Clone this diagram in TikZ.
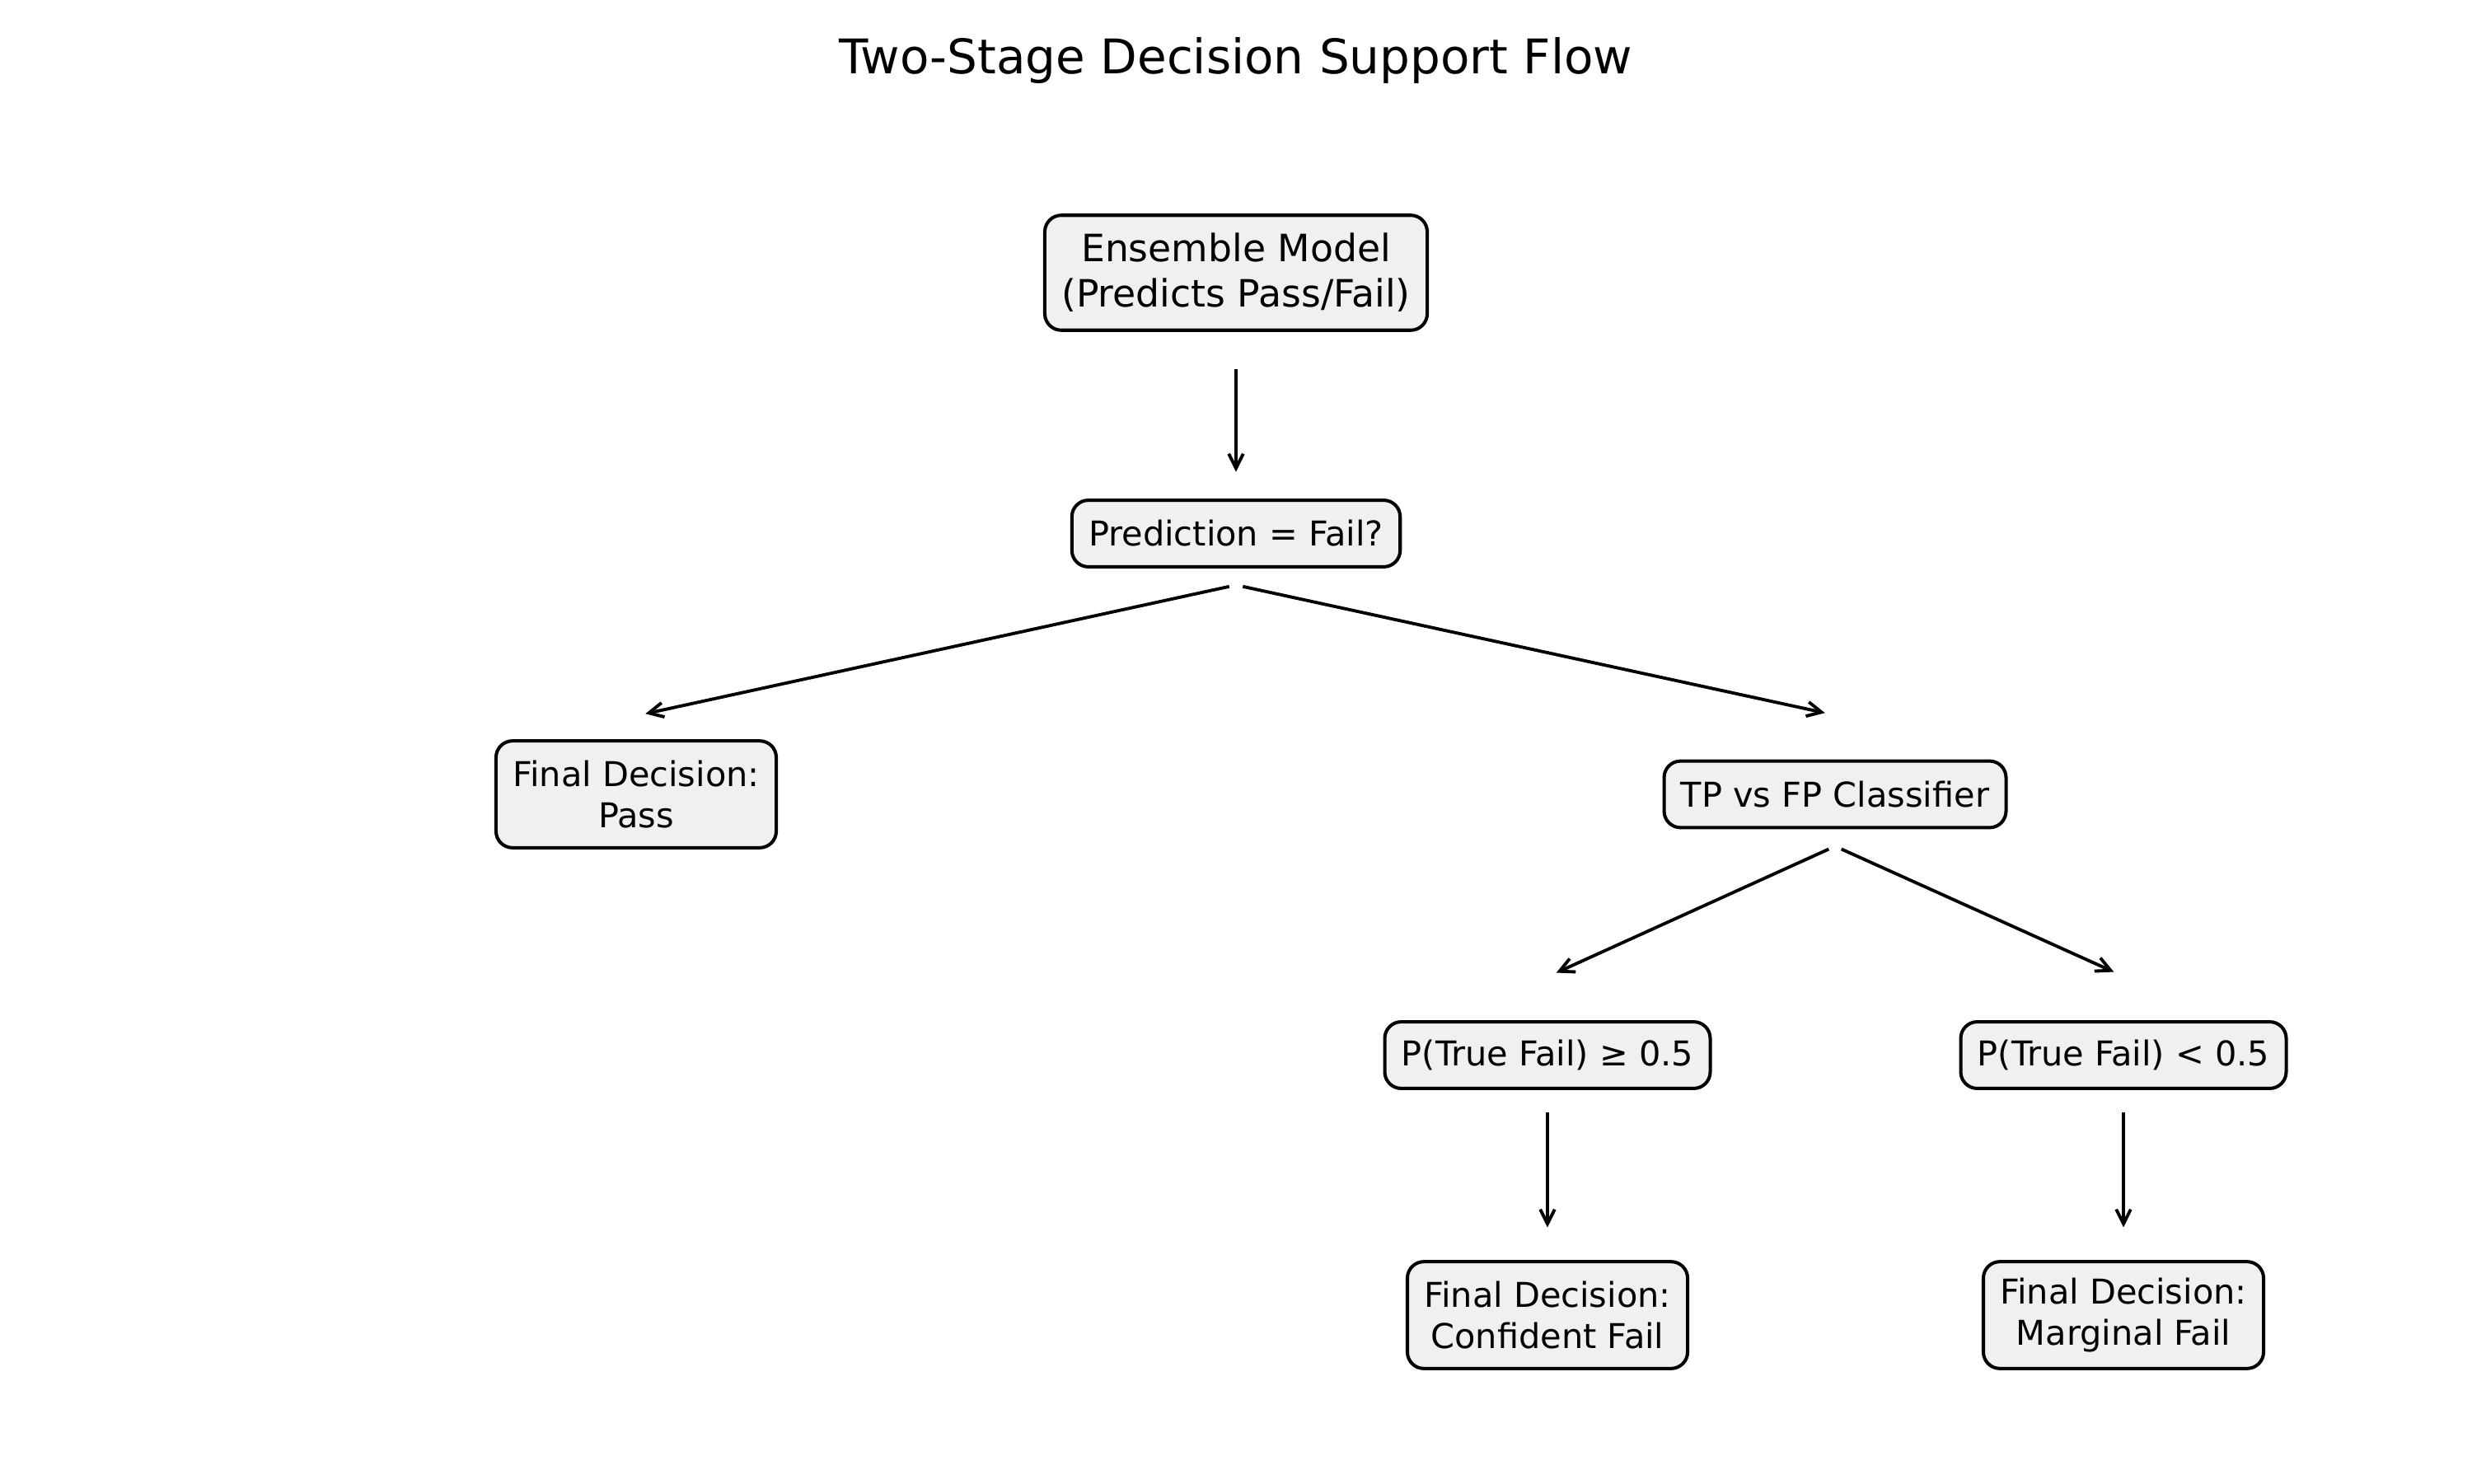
\documentclass[tikz,border=0pt]{standalone}
\usepackage{fontspec}
\setmainfont{DejaVu Sans}
\usetikzlibrary{arrows.meta}

\definecolor{boxfill}{HTML}{F0F0F0}

\tikzset{
  box/.style={draw=black, line width=1.15pt, fill=boxfill, rounded corners=5.7pt,
    align=center, inner xsep=5.8pt, inner ysep=2pt, minimum height=23pt,
    font=\fontsize{11.8}{14.2}\selectfont},
  tallbox/.style={box, minimum height=36.9pt},
  arr/.style={-{Straight Barb[length=5pt, width=5pt]}, line width=1.1pt,
    shorten <=2.4pt, shorten >=2.4pt}
}

\begin{document}
\begin{tikzpicture}

    \useasboundingbox (0,0) rectangle (30,18);

    \node[anchor=base, font=\fontsize{16.5}{19.8}\selectfont] (title) at (15,17.10) {Two-Stage Decision Support Flow};

    \node[box, minimum height=39.7pt, font=\fontsize{13}{15.6}\selectfont] (ens) at (15,14.69) {Ensemble Model\\(Predicts Pass/Fail)};
    \node[box] (pred) at (15,11.525) {Prediction = Fail?};
    \node[tallbox] (pass) at (7.72,8.36) {Final Decision:\\Pass};
    \node[box] (tpfp) at (22.27,8.36) {TP vs FP Classifier};
    \node[box] (hi) at (18.78,5.195) {P(True Fail) ≥ 0.5};
    \node[box] (lo) at (25.77,5.195) {P(True Fail) < 0.5};
    \node[tallbox] (conf) at (18.78,2.04) {Final Decision:\\Confident Fail};
    \node[tallbox] (marg) at (25.77,2.04) {Final Decision:\\Marginal Fail};

    % arrow ends
    \coordinate (ensout) at (15,13.60);
    \coordinate (predin) at (15,12.19);
    \coordinate (predfork) at (15,10.90);
    \coordinate (passin) at (7.75,9.32);
    \coordinate (tpfpin) at (22.23,9.33);
    \coordinate (tpfpfork) at (22.27,7.73);
    \coordinate (hiin) at (18.81,6.16);
    \coordinate (loin) at (25.73,6.17);
    \coordinate (hiout) at (18.78,4.58);
    \coordinate (confin) at (18.78,3.02);
    \coordinate (loout) at (25.77,4.58);
    \coordinate (margin) at (25.77,3.02);

    \draw[arr] (ensout) -- (predin);
    \draw[arr] (predfork) -- (passin);
    \draw[arr] (predfork) -- (tpfpin);
    \draw[arr] (tpfpfork) -- (hiin);
    \draw[arr] (tpfpfork) -- (loin);
    \draw[arr] (hiout) -- (confin);
    \draw[arr] (loout) -- (margin);

\end{tikzpicture}
\end{document}
